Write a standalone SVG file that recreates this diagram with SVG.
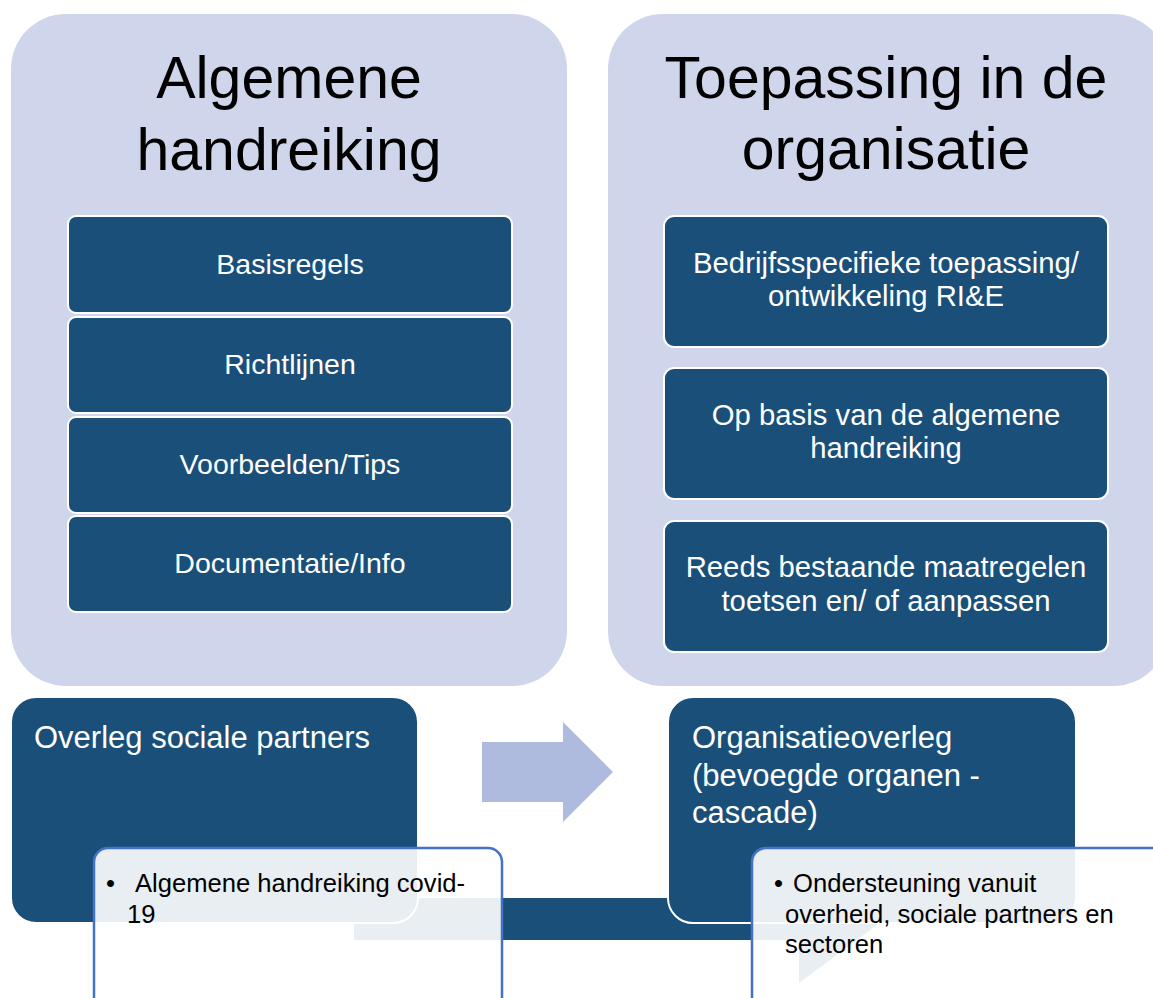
<svg xmlns="http://www.w3.org/2000/svg" width="1153" height="998" viewBox="0 0 1153 998">
<defs>
<style>
.panel{fill:#CFD5EA}
.item{fill:#1A4F79;stroke:#FFFFFF;stroke-width:2}
.dark{fill:#1A4F79;stroke:#FFFFFF;stroke-width:2}
.note{fill:#FFFFFF;fill-opacity:0.9;stroke:#4472C4;stroke-width:2.5}
.title{font-family:"Liberation Sans",Arial,sans-serif;font-size:59px;fill:#000000;text-anchor:middle}
.itxt{font-family:"Liberation Sans",Arial,sans-serif;font-size:28.5px;fill:#FFFFFF;text-anchor:middle}
.rtxt{font-family:"Liberation Sans",Arial,sans-serif;font-size:29.3px;fill:#FFFFFF;text-anchor:middle}
.btxt{font-family:"Liberation Sans",Arial,sans-serif;font-size:31px;fill:#FFFFFF}
.ntxt{font-family:"Liberation Sans",Arial,sans-serif;font-size:25.6px;fill:#000000}
</style>
</defs>
<rect width="1153" height="998" fill="#FFFFFF"/>

<g id="panel-left">
<rect class="panel" x="11" y="14" width="556" height="672" rx="55" ry="55"/>
<text class="title" x="289" y="98">Algemene</text>
<text class="title" x="289" y="170">handreiking</text>
</g>
<g id="panel-right">
<rect class="panel" x="608" y="14" width="560" height="672" rx="55" ry="55"/>
<text class="title" x="886" y="98">Toepassing in de</text>
<text class="title" x="886" y="169">organisatie</text>
</g>

<g id="item-basisregels">
<rect class="item" x="68" y="216" width="444" height="97" rx="8"/>
<text class="itxt" x="290" y="274">Basisregels</text>
</g>
<g id="item-richtlijnen">
<rect class="item" x="68" y="317" width="444" height="96" rx="8"/>
<text class="itxt" x="290" y="374">Richtlijnen</text>
</g>
<g id="item-voorbeelden">
<rect class="item" x="68" y="417" width="444" height="96" rx="8"/>
<text class="itxt" x="290" y="474">Voorbeelden/Tips</text>
</g>
<g id="item-documentatie">
<rect class="item" x="68" y="516" width="444" height="96" rx="8"/>
<text class="itxt" x="290" y="573">Documentatie/Info</text>
</g>

<g id="item-bedrijfs">
<rect class="item" x="664" y="216" width="444" height="131" rx="10"/>
<text class="rtxt" x="886" y="273">Bedrijfsspecifieke toepassing/</text>
<text class="rtxt" x="886" y="306">ontwikkeling RI&amp;E</text>
</g>
<g id="item-opbasis">
<rect class="item" x="664" y="368" width="444" height="131" rx="10"/>
<text class="rtxt" x="886" y="425">Op basis van de algemene</text>
<text class="rtxt" x="886" y="458">handreiking</text>
</g>
<g id="item-reeds">
<rect class="item" x="664" y="521" width="444" height="131" rx="10"/>
<text class="rtxt" x="886" y="577">Reeds bestaande maatregelen</text>
<text class="rtxt" x="886" y="611">toetsen en/ of aanpassen</text>
</g>

<g id="connectors">
<polygon points="482,742 563,742 563,722 613,772 563,822 563,802 482,802" fill="#AFBBDE"/>
<polygon points="354,898 799,898 799,855 885,919 799,983 799,940 354,940" fill="#1A4F79"/>
</g>

<g id="box-overleg">
<rect class="dark" x="11" y="697" width="407" height="226" rx="25"/>
<text class="btxt" x="34" y="748">Overleg sociale partners</text>
</g>
<g id="box-organisatie">
<rect class="dark" x="668" y="697" width="408" height="226" rx="25"/>
<text class="btxt" x="692" y="748">Organisatieoverleg</text>
<text class="btxt" x="692" y="786">(bevoegde organen -</text>
<text class="btxt" x="692" y="823">cascade)</text>
</g>

<g id="note-left">
<rect class="note" x="94" y="848" width="408" height="170" rx="14"/>
<text class="ntxt" x="106" y="892">•</text>
<text class="ntxt" x="135" y="892">Algemene handreiking covid-</text>
<text class="ntxt" x="127" y="923">19</text>
</g>
<g id="note-right">
<rect class="note" x="752" y="848" width="420" height="170" rx="14"/>
<text class="ntxt" x="774" y="892">•</text>
<text class="ntxt" x="793" y="892">Ondersteuning vanuit</text>
<text class="ntxt" x="785" y="923">overheid, sociale partners en</text>
<text class="ntxt" x="785" y="953">sectoren</text>
</g>
</svg>
